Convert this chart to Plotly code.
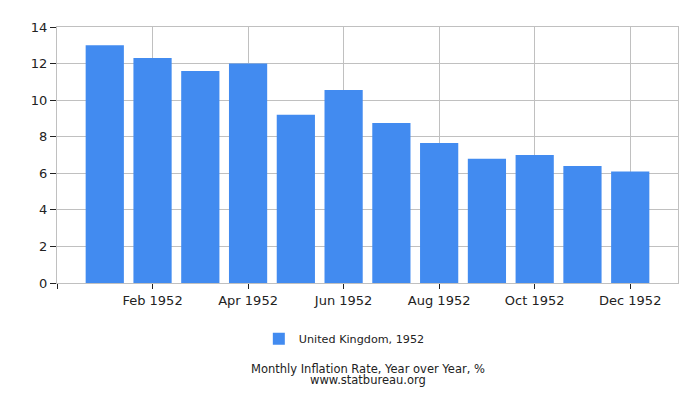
import plotly.graph_objects as go

months = ["Jan 1952", "Feb 1952", "Mar 1952", "Apr 1952", "May 1952", "Jun 1952",
          "Jul 1952", "Aug 1952", "Sep 1952", "Oct 1952", "Nov 1952", "Dec 1952"]
values = [13.0, 12.3, 11.6, 12.0, 9.2, 10.55, 8.75, 7.65, 6.8, 7.0, 6.4, 6.1]
series_name = "United Kingdom, 1952"
y_ticks = [0, 2, 4, 6, 8, 10, 12, 14]

xs = list(range(len(months)))
tick_idx = [-1] + [i for i in xs if i % 2 == 1]
tick_txt = [""] + [months[i] for i in xs if i % 2 == 1]

font = "DejaVu Sans"
grid = "#c0c0c0"

fig = go.Figure()
fig.add_trace(go.Bar(x=xs, y=values, name=series_name, marker_color="#428bf0",
                     marker_line_width=0, hoverinfo="x+y"))

fig.update_layout(
    width=684, height=384,
    margin=dict(l=49, r=14, t=14, b=109),
    plot_bgcolor="white", paper_bgcolor="white",
    bargap=0.2,
    font=dict(family=font, size=13, color="#222"),
    showlegend=True,
    legend=dict(orientation="h", x=0.325, xanchor="left", y=-0.218, yanchor="middle",
                font=dict(size=11.2, family=font, color="#222")),
    annotations=[
        dict(text="Monthly Inflation Rate, Year over Year, %", x=0.5, xref="paper",
             y=-0.336, yref="paper", yanchor="middle", showarrow=False,
             font=dict(size=11.5, family=font, color="#222")),
        dict(text="www.statbureau.org", x=0.5, xref="paper",
             y=-0.378, yref="paper", yanchor="middle", showarrow=False,
             font=dict(size=11.5, family=font, color="#222")),
    ],
)
fig.update_xaxes(range=[-1, len(months)], tickmode="array", tickvals=tick_idx,
                 ticktext=tick_txt, showgrid=True, gridcolor=grid, gridwidth=1,
                 ticks="outside", ticklen=5, tickcolor="#222",
                 showline=True, linecolor=grid, mirror=True, zeroline=False,
                 tickfont=dict(size=13))
fig.update_yaxes(range=[0, 14], tickmode="array", tickvals=y_ticks,
                 showgrid=True, gridcolor=grid, gridwidth=1,
                 ticks="outside", ticklen=6, tickcolor="#222",
                 showline=True, linecolor=grid, mirror=True, zeroline=False,
                 tickfont=dict(size=13))

fig.write_html("out.html")
